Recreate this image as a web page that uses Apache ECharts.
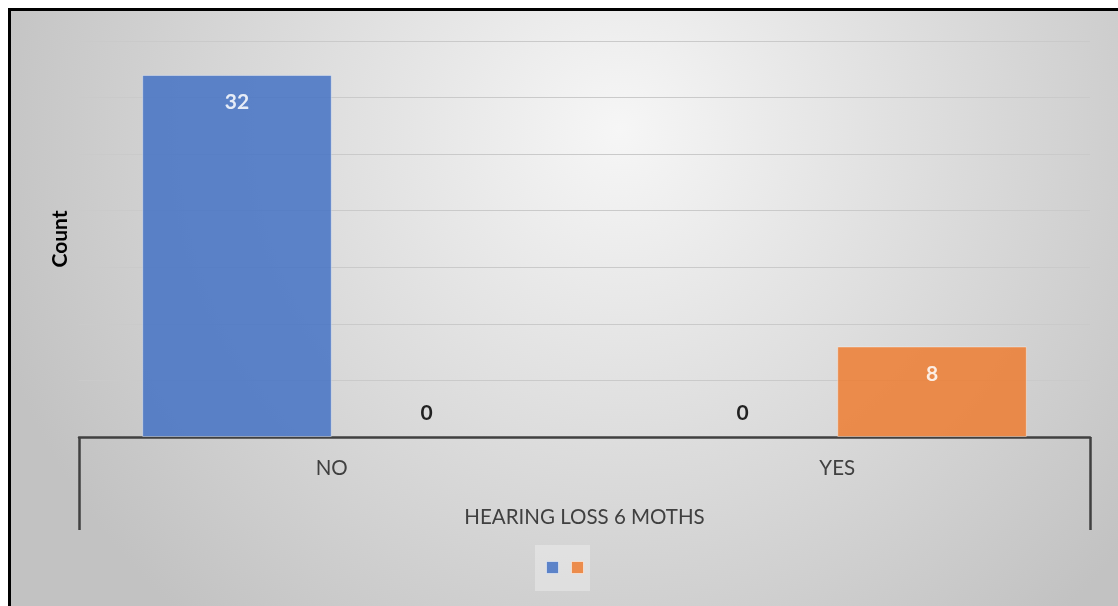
<!DOCTYPE html>
<html>
<head>
<meta charset="utf-8">
<script src="https://cdn.jsdelivr.net/npm/echarts@6/dist/echarts.min.js"></script>
<style>
  html, body { margin: 0; padding: 0; background: #fff; }
  #frame {
    position: absolute; left: 8px; top: 8px; right: 0; bottom: 0;
    border-left: 3px solid #000; border-top: 3px solid #000;
  }
  #chart { width: 100%; height: 100%; }
</style>
</head>
<body>
<div id="frame"><div id="chart"></div></div>
<script>
// categories and values
const categories = ["NO", "YES"];
const groupLabel = ["HEARING LOSS 6 MOTHS"];
const seriesNames = ["Series 1", "Series 2"];
const blueValues = [32, 0];
const orangeValues = [0, 8];
const colors = ["#4472c4", "#ed7d31"];

// zero values get a black label above the baseline, others white inside the top
function toItems(values) {
  return values.map(v => ({
    value: v,
    itemStyle: v === 0 ? { borderWidth: 0 } : {},
    label: v === 0
      ? { position: "top", distance: 13, color: "#000" }
      : { position: "insideTop", distance: 17, color: "#fff" }
  }));
}

const chart = echarts.init(document.getElementById("chart"));

const mkSeries = (name, values, color) => ({
  name: name,
  type: "bar",
  data: toItems(values),
  barGap: "0%",
  barCategoryGap: "25%",
  itemStyle: { color: color, opacity: 0.85, borderColor: "rgba(255,255,255,0.45)", borderWidth: 1 },
  label: { show: true, fontFamily: "Lato", fontWeight: "bold", fontSize: 21 },
  z: 3
});

chart.setOption({
  backgroundColor: {
    type: "radial", x: 0.55, y: 0.2, r: 1.1,
    colorStops: [
      { offset: 0, color: "#f6f6f6" },
      { offset: 1, color: "#c2c2c2" }
    ]
  },
  animation: false,
  textStyle: { fontFamily: "Lato" },
  grid: { left: 68, right: 28, top: 30, bottom: 169 },
  legend: {
    data: seriesNames,
    left: 524, top: 534,
    orient: "horizontal",
    itemWidth: 12, itemHeight: 12, itemGap: 12,
    icon: "rect",
    formatter: () => "",
    backgroundColor: "rgba(255,255,255,0.3)",
    padding: [16, 6, 17, 11],
    itemStyle: { opacity: 0.85, borderColor: "rgba(255,255,255,0.6)", borderWidth: 1 }
  },
  xAxis: [
    {
      type: "category",
      data: categories,
      axisLine: { lineStyle: { color: "#404040", width: 2.5 } },
      axisTick: { show: false },
      axisLabel: { color: "#404040", fontSize: 20.5, margin: 21 }
    },
    {
      type: "category",
      data: groupLabel,
      position: "bottom",
      axisLine: { show: false },
      axisTick: { show: true, length: 93, lineStyle: { color: "#404040", width: 2.5 } },
      axisLabel: { color: "#404040", fontSize: 20.5, margin: 70 }
    }
  ],
  yAxis: {
    type: "value",
    min: 0, max: 35, interval: 5,
    name: "Count",
    nameLocation: "middle",
    nameGap: 8,
    nameTextStyle: { color: "#000", fontWeight: "bold", fontSize: 21 },
    axisLine: { show: false },
    axisTick: { show: false },
    axisLabel: { show: false },
    splitLine: { lineStyle: { color: "#cacaca", width: 1.2 } }
  },
  series: [
    mkSeries(seriesNames[0], blueValues, colors[0]),
    mkSeries(seriesNames[1], orangeValues, colors[1])
  ]
});
</script>
</body>
</html>
